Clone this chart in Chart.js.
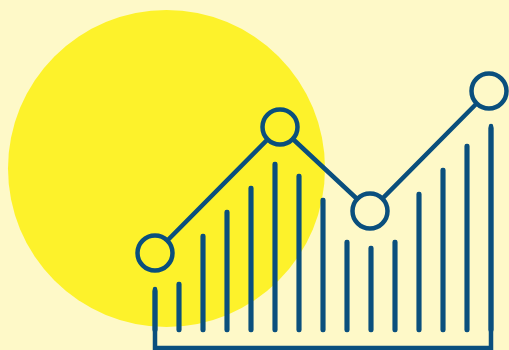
<!DOCTYPE html>
<html>
<head>
<meta charset="utf-8">
<script src="https://cdn.jsdelivr.net/npm/chart.js@4/dist/chart.umd.min.js"></script>
<style>
  html, body { margin: 0; padding: 0; background: #fef9c8; }
  #wrap { width: 509px; height: 350px; }
</style>
</head>
<body>
<div id="wrap"><canvas id="chart" width="509" height="350"></canvas></div>
<script>
// values measured upward from the bottom edge of the picture
const barX = [155, 179, 203, 227, 251, 275, 299, 323, 347, 371, 395, 419, 443, 467, 491];
const barTop = [61, 68, 116, 140, 164, 188, 176, 152, 110, 104, 110, 158, 182, 206, 224];
const barBase = 18;
const frameBase = 2;

const lineX = [155, 280, 370, 489];
const lineY = [97, 223, 139, 259];

const sunX = [166.5];
const sunY = [181.5];
const sunR = [158.5];

const navy = '#0a4f7d';
const stroke = 4.5;
const ring = 17.5;

const bars = barX.map((x, i) => ({ x: x, y: [barBase, barTop[i]] }));
const linePts = lineX.map((x, i) => ({ x: x, y: lineY[i] }));
const last = barX.length - 1;
const frame = [
    { x: barX[0], y: barTop[0] },
    { x: barX[0], y: frameBase },
    { x: barX[last], y: frameBase },
    { x: barX[last], y: barTop[last] }
];

// keeps the connecting line out of the hollow rings
const ringCut = {
    id: 'ringCut',
    beforeDatasetDraw(chart, args) {
        if (chart.data.datasets[args.index].id !== 'trend') return;
        const ctx = chart.ctx;
        ctx.save();
        ctx.beginPath();
        ctx.rect(0, 0, chart.width, chart.height);
        chart.getDatasetMeta(args.index).data.forEach(p => {
            ctx.moveTo(p.x + ring, p.y);
            ctx.arc(p.x, p.y, ring, 0, Math.PI * 2);
        });
        ctx.clip('evenodd');
    },
    afterDatasetDraw(chart, args) {
        if (chart.data.datasets[args.index].id !== 'trend') return;
        chart.ctx.restore();
    }
};

new Chart(document.getElementById('chart'), {
    data: {
        datasets: [
            {
                type: 'bubble',
                data: sunX.map((x, i) => ({ x: x, y: sunY[i], r: sunR[i] })),
                backgroundColor: '#fdf22b',
                borderWidth: 0,
                clip: false,
                order: 5
            },
            {
                type: 'bar',
                data: bars,
                backgroundColor: navy,
                barThickness: stroke,
                borderRadius: stroke / 2,
                borderSkipped: false,
                clip: false,
                order: 4
            },
            {
                type: 'line',
                data: frame,
                borderColor: navy,
                borderWidth: stroke,
                borderCapStyle: 'round',
                borderJoinStyle: 'miter',
                pointRadius: 0,
                tension: 0,
                clip: false,
                order: 3
            },
            {
                id: 'trend',
                type: 'line',
                data: linePts,
                borderColor: navy,
                borderWidth: stroke,
                pointRadius: 0,
                tension: 0,
                clip: false,
                order: 2
            },
            {
                type: 'line',
                data: linePts,
                showLine: false,
                pointRadius: ring,
                pointBorderWidth: stroke,
                pointBorderColor: navy,
                pointBackgroundColor: 'rgba(0,0,0,0)',
                clip: false,
                order: 1
            }
        ]
    },
    options: {
        responsive: false,
        animation: false,
        events: [],
        layout: { padding: 0, autoPadding: false },
        plugins: { legend: { display: false }, tooltip: { enabled: false } },
        scales: {
            x: { type: 'linear', min: 0, max: 509, offset: false, display: false },
            y: { type: 'linear', min: 0, max: 350, display: false }
        }
    },
    plugins: [ringCut]
});
</script>
</body>
</html>
